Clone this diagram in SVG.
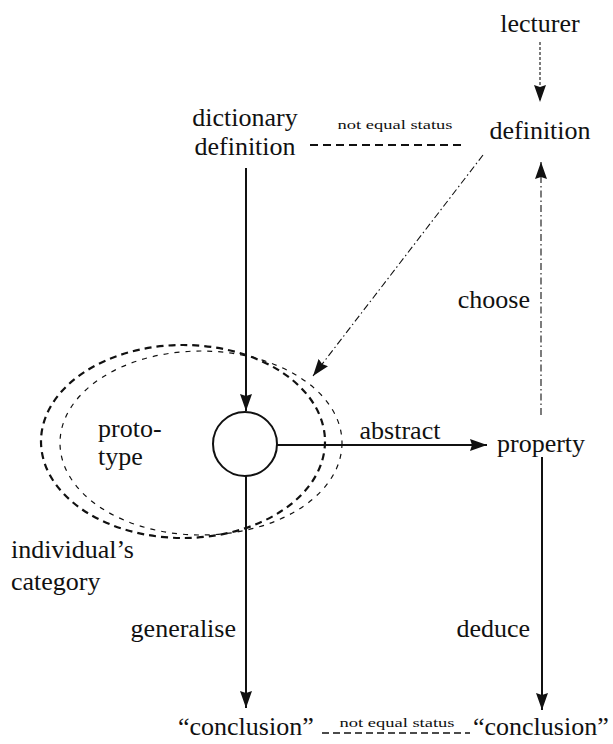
<svg xmlns="http://www.w3.org/2000/svg" width="613" height="744" viewBox="0 0 613 744" font-family="Liberation Serif">
<style>
text{font-size:26px;fill:#111}
.mid{text-anchor:middle}
.end{text-anchor:end}
.small{font-size:12px}
.solid{stroke:#111;stroke-width:2;fill:none}
.dd{stroke:#111;stroke-width:1.1;fill:none;stroke-dasharray:7 3 1.5 3}
.dash{stroke:#111;stroke-width:2.2;fill:none;stroke-dasharray:8 5}
</style>
<defs>
<marker id="ah" markerUnits="userSpaceOnUse" markerWidth="18" markerHeight="12" viewBox="0 0 18 12" refX="17" refY="6" orient="auto">
<path d="M0,0 L17,6 L0,12 L2,6 z" fill="#111"/>
</marker>
</defs>
<rect width="613" height="744" fill="#fff"/>
<g id="connectors">
<line class="dd" x1="540" y1="42" x2="540" y2="102" marker-end="url(#ah)" style="stroke-dasharray:3 2"/>
<line class="dash" x1="310" y1="145" x2="466" y2="145"/>
<line class="solid" x1="246" y1="168" x2="246" y2="411" marker-end="url(#ah)"/>
<line class="dd" x1="483" y1="155" x2="313" y2="376" marker-end="url(#ah)"/>
<line class="dd" x1="541" y1="415" x2="541" y2="162" marker-end="url(#ah)"/>
<line class="solid" x1="277" y1="445" x2="487" y2="445" marker-end="url(#ah)"/>
<line class="solid" x1="542" y1="457" x2="542" y2="710" marker-end="url(#ah)"/>
<line class="solid" x1="246" y1="476" x2="246" y2="708" marker-end="url(#ah)"/>
<line class="dash" x1="322" y1="733" x2="470" y2="733" style="stroke-width:1.6;stroke-dasharray:7 4"/>
</g>
<g id="category">
<ellipse cx="183" cy="441.5" rx="142" ry="96.5" fill="none" stroke="#111" stroke-width="2.2" stroke-dasharray="7 5"/>
<ellipse cx="201" cy="443" rx="141" ry="92" fill="none" stroke="#111" stroke-width="1.2" stroke-dasharray="5 6"/>
<text x="11" y="558" font-family="Liberation Serif">individual’s</text>
<text x="11" y="590" font-family="Liberation Serif">category</text>
</g>
<g id="prototype">
<circle cx="245" cy="444" r="32" fill="#fff" stroke="#111" stroke-width="2"/>
<text x="98" y="437" font-family="Liberation Serif">proto-</text>
<text x="98" y="465" font-family="Liberation Serif">type</text>
</g>
<g id="lecturer"><text class="mid" x="540" y="32" font-family="Liberation Serif">lecturer</text></g>
<g id="definition"><text class="mid" x="540" y="139" font-family="Liberation Serif">definition</text></g>
<g id="dictionary-definition">
<text class="mid" x="245" y="126" font-family="Liberation Serif">dictionary</text>
<text class="mid" x="245" y="155" font-family="Liberation Serif">definition</text>
</g>
<g id="property"><text x="497" y="452" font-family="Liberation Serif">property</text></g>
<g id="conclusion-left"><text x="178" y="735" font-family="Liberation Serif">“conclusion”</text></g>
<g id="conclusion-right"><text x="473" y="735" font-family="Liberation Serif">“conclusion”</text></g>
<g id="labels">
<text class="small mid" x="395" y="129" font-family="Liberation Serif" textLength="115" lengthAdjust="spacingAndGlyphs">not equal status</text>
<text class="small mid" x="397" y="727" font-family="Liberation Serif" textLength="115" lengthAdjust="spacingAndGlyphs">not equal status</text>
<text class="end" x="530" y="308" font-family="Liberation Serif">choose</text>
<text class="mid" x="400" y="439" font-family="Liberation Serif">abstract</text>
<text class="end" x="236" y="637" font-family="Liberation Serif">generalise</text>
<text class="end" x="530" y="637" font-family="Liberation Serif">deduce</text>
</g>
</svg>
